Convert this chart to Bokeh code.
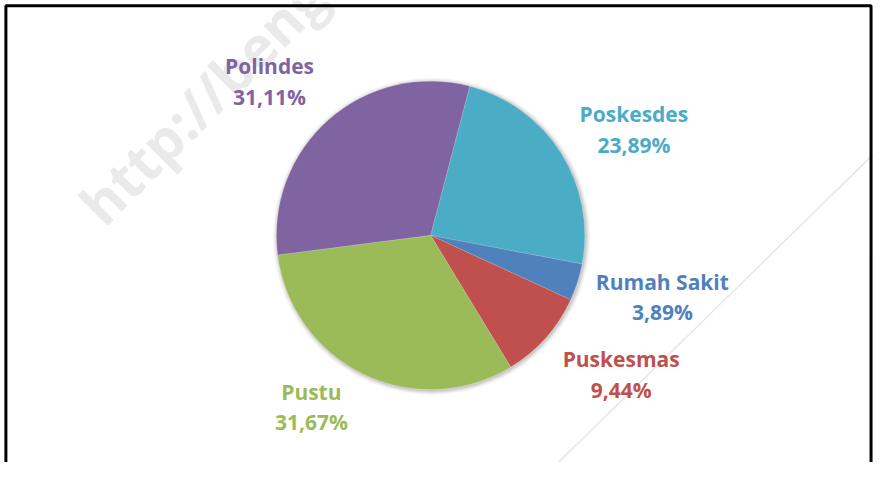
import numpy as np
from bokeh.plotting import figure
from bokeh.models import Range1d, ColumnDataSource
from bokeh.core.properties import value
from bokeh.embed import file_html
from bokeh.resources import INLINE

# ---- data ----
categories = ["Poskesdes", "Rumah Sakit", "Puskesmas", "Pustu", "Polindes"]
percent = [23.89, 3.89, 9.44, 31.67, 31.11]
colors = ["#4BACC6", "#4F81BD", "#C0504D", "#9BBB59", "#8064A2"]
watermark = "http://beng"

# ---- layout (reference image px, y down; mapped onto the figure) ----
W, H = 873, 462
REF_W, REF_H = 889, 478
cx, cy_screen = 438, 243
radius = 157
first_slice_deg = 14.7          # clockwise from 12 o'clock
label_r = 230
label_nudge = [(12.6, -13.6), (16.9, 6.2), (22.3, 9.0), (-21.7, 29.7), (-12.2, -13.8)]
line_gap = 16
font = "Open Sans"

def ydata(y_screen):
    return REF_H - y_screen

cy = ydata(cy_screen)

p = figure(width=W, height=H, output_backend="svg", toolbar_location=None,
           x_range=Range1d(0, REF_W), y_range=Range1d(0, REF_H),
           min_border=0, outline_line_color=None, background_fill_color="white")
p.axis.visible = False
p.grid.visible = False

# watermark line and text
p.line(x=[560, 900], y=[ydata(486), ydata(148)], line_color="#E6E6E6", line_width=1.5)
p.text(x=[90], y=[ydata(220)], text=[watermark], angle=np.pi / 4,
       text_font=value("Open Sans"), text_font_style="bold", text_font_size="56px",
       text_color="#EAEAEA", text_baseline="alphabetic", text_align="left")

# soft shadow
for k, a in zip([5, 4, 3, 2, 1], [0.02, 0.03, 0.04, 0.05, 0.07]):
    p.circle(x=[cx + 1], y=[cy - 1], radius=radius + k, fill_color="#000000",
             fill_alpha=a, line_color=None)

# wedges
pct = np.array(percent)
cum_end = np.cumsum(pct)
cum_start = cum_end - pct
base = np.deg2rad(90 - first_slice_deg)
start = base - cum_end / 100 * 2 * np.pi
end = base - cum_start / 100 * 2 * np.pi
src = ColumnDataSource(dict(start=start, end=end, color=colors))
p.wedge(x=cx, y=cy, radius=radius, start_angle="start", end_angle="end",
        fill_color="color", line_color="white", line_width=0.5, line_alpha=0.3,
        direction="anticlock", source=src)

# labels
mid = (start + end) / 2
lx = cx + label_r * np.cos(mid) + np.array([n[0] for n in label_nudge])
ly = cy + label_r * np.sin(mid) + np.array([n[1] for n in label_nudge])
pct_text = [f"{v:.2f}".replace(".", ",") + "%" for v in percent]
lsrc = ColumnDataSource(dict(x=lx, y1=ly + line_gap, y2=ly - line_gap,
                             name=categories, pct=pct_text, color=colors))
for ycol, tcol in (("y1", "name"), ("y2", "pct")):
    p.text(x="x", y=ycol, text=tcol, source=lsrc, text_color="color",
           text_font=value(font), text_font_style="bold", text_font_size="21px",
           text_align="center", text_baseline="middle")

# frame border (top, left, right)
bx = [5.5, 5.5, 886.5, 886.5]
by = [ydata(490), ydata(5.5), ydata(5.5), ydata(490)]
p.line(x=bx, y=by, line_color="black", line_width=3)

open("out.html", "w").write(file_html(p, INLINE))
